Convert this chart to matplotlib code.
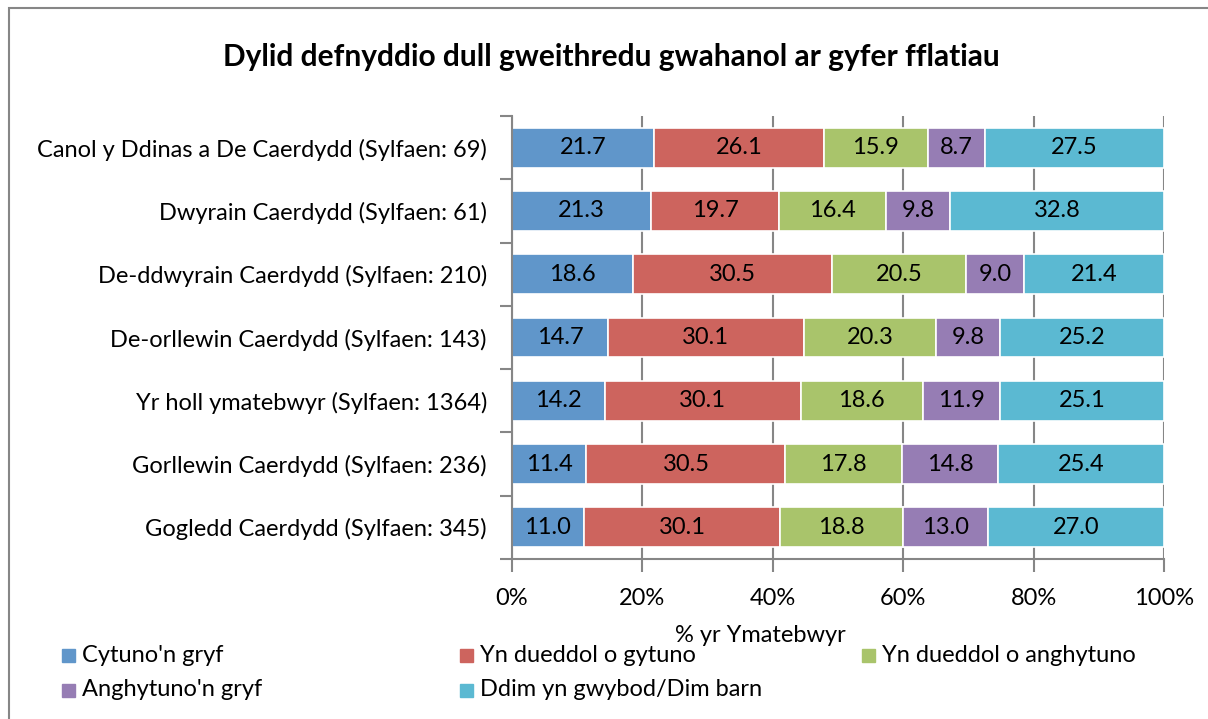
import numpy as np
import matplotlib.pyplot as plt
from matplotlib.patches import Rectangle

plt.rcParams['font.family'] = ['Lato', 'DejaVu Sans']

# categories, top row first
areas = [
    "Canol y Ddinas a De Caerdydd (Sylfaen: 69)",
    "Dwyrain Caerdydd (Sylfaen: 61)",
    "De-ddwyrain Caerdydd (Sylfaen: 210)",
    "De-orllewin Caerdydd (Sylfaen: 143)",
    "Yr holl ymatebwyr (Sylfaen: 1364)",
    "Gorllewin Caerdydd (Sylfaen: 236)",
    "Gogledd Caerdydd (Sylfaen: 345)",
]
responses = ["Cytuno'n gryf", "Yn dueddol o gytuno", "Yn dueddol o anghytuno",
             "Anghytuno'n gryf", "Ddim yn gwybod/Dim barn"]

cytuno_gryf = [21.7, 21.3, 18.6, 14.7, 14.2, 11.4, 11.0]
tueddol_cytuno = [26.1, 19.7, 30.5, 30.1, 30.1, 30.5, 30.1]
tueddol_anghytuno = [15.9, 16.4, 20.5, 20.3, 18.6, 17.8, 18.8]
anghytuno_gryf = [8.7, 9.8, 9.0, 9.8, 11.9, 14.8, 13.0]
ddim_gwybod = [27.5, 32.8, 21.4, 25.2, 25.1, 25.4, 27.0]

colours = ["#6096CA", "#CD645E", "#A9C46B", "#967DB4", "#5BB9D2"]

series = np.array([cytuno_gryf, tueddol_cytuno, tueddol_anghytuno,
                   anghytuno_gryf, ddim_gwybod])
shares = series / series.sum(axis=0) * 100  # 100% stacked

FS = 17

fig = plt.figure(figsize=(12.08, 7.19), dpi=100)
ax = fig.add_axes([512 / 1208, 1 - 559 / 719, 652 / 1208, 443 / 719])

y = np.arange(len(areas))[::-1]
left = np.zeros(len(areas))
for i in range(len(responses)):
    ax.barh(y, shares[i], left=left, height=0.63, color=colours[i],
            edgecolor='white', linewidth=1.2, zorder=2)
    for yy, l, w, v in zip(y, left, shares[i], series[i]):
        ax.text(l + w / 2, yy, f"{v:.1f}", ha='center', va='center',
                fontsize=FS, color='black', zorder=3)
    left += shares[i]

ax.set_xlim(0, 100)
ax.set_ylim(-0.5, len(areas) - 0.5)
ax.set_xticks(np.arange(0, 101, 20))
ax.set_xticklabels([f"{t}%" for t in range(0, 101, 20)], fontsize=FS)
ax.set_yticks(y)
ax.set_yticklabels(areas, fontsize=FS)
ax.set_yticks(np.arange(-0.5, len(areas), 1), minor=True)
ax.tick_params(axis='y', which='major', length=0, pad=18)
ax.tick_params(axis='y', which='minor', length=9, color='#868686', width=1.5)
ax.tick_params(axis='x', length=9, color='#868686', width=1.5, pad=12)
ax.xaxis.grid(True, color='#868686', linewidth=1.5, zorder=0)
ax.set_axisbelow(True)
for s in ['top', 'right']:
    ax.spines[s].set_visible(False)
for s in ['left', 'bottom']:
    ax.spines[s].set_color('#868686')
    ax.spines[s].set_linewidth(1.5)

fig.text(611 / 1208, 1 - 57 / 719, "Dylid defnyddio dull gweithredu gwahanol ar gyfer fflatiau",
         ha='center', va='center', fontsize=21.5, fontweight='bold')
fig.text(760 / 1208, 1 - 636 / 719, "% yr Ymatebwyr", ha='center', va='center', fontsize=FS)

# legend laid out in rows like the original chart
legend_pos = [(62, 655), (460, 655), (862, 655), (62, 690), (460, 690)]
for (px, py), label, c in zip(legend_pos, responses, colours):
    fig.patches.append(Rectangle((px / 1208, 1 - (py + 7) / 719), 13 / 1208, 13 / 719,
                                 transform=fig.transFigure, color=c, figure=fig))
    fig.text((px + 20) / 1208, 1 - py / 719, label, ha='left', va='center', fontsize=FS)

# outer chart frame
fig.patches.append(Rectangle((9 / 1208, -0.05), 1.1, 1 - 8 / 719 + 0.05, fill=False,
                             edgecolor='#868686', linewidth=1.5,
                             transform=fig.transFigure, figure=fig))

fig.savefig("out.png", dpi=100)
